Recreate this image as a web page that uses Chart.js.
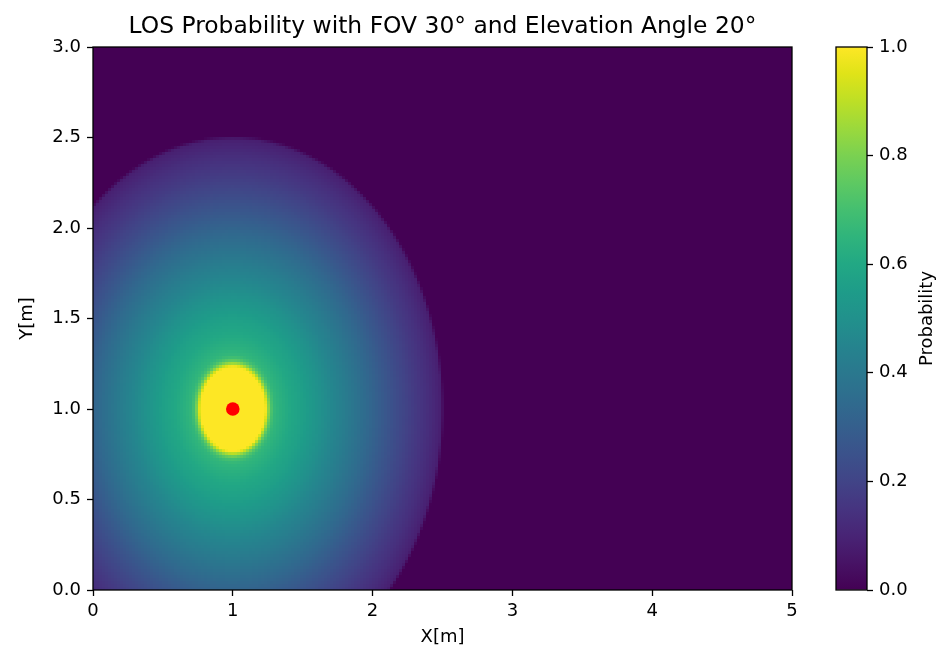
<!DOCTYPE html>
<html><head><meta charset="utf-8">
<script src="https://cdn.jsdelivr.net/npm/chart.js@4.4.1/dist/chart.umd.min.js"></script>
<style>
html,body{margin:0;padding:0;background:#fff;}
#wrap{position:relative;width:942px;height:651px;}
#wrap canvas{position:absolute;left:0;top:0;}
</style></head><body>
<div id="wrap"><canvas id="main" width="942" height="651"></canvas><canvas id="cbar" width="942" height="651"></canvas></div>
<script>
// ---- data ----
const chartTitle = 'LOS Probability with FOV 30° and Elevation Angle 20°';
const xRange = [0, 5];
const yRange = [0, 3];
const xTickLabels = ['0', '1', '2', '3', '4', '5'];
const yTickLabels = ['0.0', '0.5', '1.0', '1.5', '2.0', '2.5', '3.0'];
const cbarTickLabels = ['0.0', '0.2', '0.4', '0.6', '0.8', '1.0'];
const sourcePoint = [1, 1];            // red marker (x, y)
const cutoffRadius = 1.5;              // beyond this distance probability is 0
// radial profile of probability around the source point (distance in metres)
const radialDistance = [0, 0.232, 0.242, 0.252, 0.265, 0.28, 0.30, 0.35, 0.42, 0.50, 0.60, 0.70, 0.80, 0.90, 1.00, 1.10, 1.20, 1.30, 1.40, 1.46, 1.50];
const radialProb     = [1.0, 1.0, 0.93, 0.85, 0.76, 0.70, 0.66, 0.63, 0.595, 0.565, 0.515, 0.465, 0.42, 0.37, 0.32, 0.265, 0.215, 0.17, 0.13, 0.10, 0.08];
const outsideProb = 0;
// grid resolution of the rendered field
const gridCols = 233, gridRows = 181;
const cellStepX = (xRange[1] - xRange[0]) / gridCols;
const cellStepY = (yRange[1] - yRange[0]) / gridRows;

// viridis colour map
const viridis = ['#440154','#471365','#482475','#463480','#414487','#3b528b','#355f8d','#2f6c8e','#2a788e','#25848e','#21918c','#1e9c89','#22a884','#2fb47c','#44bf70','#5ec962','#7ad151','#9bd93c','#bddf26','#dfe318','#fde725'];
const vrgb = viridis.map(h => [parseInt(h.slice(1,3),16), parseInt(h.slice(3,5),16), parseInt(h.slice(5,7),16)]);
function cmapRGB(p) {
  p = Math.max(0, Math.min(1, p));
  const f = p * (vrgb.length - 1), i = Math.min(vrgb.length - 2, Math.floor(f)), t = f - i;
  const a = vrgb[i], b = vrgb[i + 1];
  return a.map((v, k) => v + (b[k] - v) * t);
}
const toCss = c => 'rgb(' + c.map(Math.round).join(',') + ')';
function profile(r) {
  if (r > cutoffRadius) return outsideProb;
  for (let k = 1; k < radialDistance.length; k++) {
    if (r <= radialDistance[k]) {
      const t = (r - radialDistance[k - 1]) / (radialDistance[k] - radialDistance[k - 1]);
      return radialProb[k - 1] + (radialProb[k] - radialProb[k - 1]) * t;
    }
  }
  return radialProb[radialProb.length - 1];
}

// build heatmap cells (non-zero cells; the zero region is the background colour)
const heatCells = [], heatColors = [];
const edgeWidth = 0.02;   // cell-sized soft edge at the cutoff
const zeroRGB = cmapRGB(outsideProb);
for (let i = 0; i < gridCols; i++) {
  const x = xRange[0] + (i + 0.5) * cellStepX;
  for (let j = 0; j < gridRows; j++) {
    const y = yRange[0] + (j + 0.5) * cellStepY;
    const r = Math.hypot(x - sourcePoint[0], y - sourcePoint[1]);
    if (r <= cutoffRadius + edgeWidth / 2) {
      let c = cmapRGB(profile(Math.min(r, cutoffRadius)));
      const cover = Math.max(0, Math.min(1, (cutoffRadius + edgeWidth / 2 - r) / edgeWidth));
      if (cover < 1) c = c.map((v, k) => zeroRGB[k] + (v - zeroRGB[k]) * cover);
      heatCells.push({x, y});
      heatColors.push(toCss(c));
    }
  }
}

Chart.defaults.font.family = "'DejaVu Sans', sans-serif";
Chart.defaults.font.size = 18;
Chart.defaults.color = '#000';

const areaPlugin = {
  id: 'area',
  beforeDatasetsDraw(chart) {
    const {ctx, chartArea: a} = chart;
    ctx.save(); ctx.fillStyle = toCss(zeroRGB);
    ctx.fillRect(a.left, a.top, a.right - a.left, a.bottom - a.top); ctx.restore();
  },
  afterDatasetsDraw(chart) {
    const {ctx, chartArea: a} = chart;
    ctx.save(); ctx.strokeStyle = '#000'; ctx.lineWidth = 1.3;
    ctx.strokeRect(a.left, a.top, a.right - a.left, a.bottom - a.top); ctx.restore();
  }
};

function cellRadius(c) {
  const s = c.chart.scales;
  if (!s || !s.x || !s.y) return 2;
  const w = Math.abs(s.x.getPixelForValue(cellStepX) - s.x.getPixelForValue(0));
  const h = Math.abs(s.y.getPixelForValue(0) - s.y.getPixelForValue(cellStepY));
  return (Math.max(w, h) + 0.02) / Math.SQRT2;
}

new Chart(document.getElementById('main'), {
  type: 'scatter',
  data: {
    datasets: [
      { data: [{x: sourcePoint[0], y: sourcePoint[1]}], pointRadius: 6.8, pointHoverRadius: 6.8,
        pointBackgroundColor: '#ff0000', pointBorderWidth: 0, clip: false },
      { data: heatCells, pointStyle: 'rect', pointRadius: cellRadius, pointHoverRadius: cellRadius,
        pointBackgroundColor: heatColors, pointBorderWidth: 0, clip: 0 }
    ]
  },
  options: {
    responsive: false, animation: false, events: [],
    layout: {padding: {left: 0, right: 150, top: 0, bottom: 0}},
    plugins: {
      legend: {display: false}, tooltip: {enabled: false},
      title: {display: true, text: chartTitle, fullSize: false, color: '#000',
              font: {size: 23.4, weight: 'normal'}, padding: {top: 13, bottom: 5.92}}
    },
    scales: {
      x: {
        type: 'linear', min: xRange[0], max: xRange[1],
        afterFit(s) { s.height = 61; },
        ticks: {stepSize: 1, padding: 5, maxRotation: 0, autoSkip: false, color: '#000',
                callback: (v, i) => xTickLabels[i]},
        grid: {drawOnChartArea: false, tickLength: 6, color: '#000', tickWidth: 1.3},
        border: {display: false},
        title: {display: true, text: 'X[m]', color: '#000', padding: {top: 0, bottom: 3}}
      },
      y: {
        type: 'linear', min: yRange[0], max: yRange[1],
        afterFit(s) { s.width = 93; },
        ticks: {stepSize: 0.5, padding: 6, autoSkip: false, color: '#000',
                callback: (v, i) => yTickLabels[i]},
        grid: {drawOnChartArea: false, tickLength: 6, color: '#000', tickWidth: 1.3},
        border: {display: false},
        title: {display: true, text: 'Y[m]', color: '#000', padding: {top: 17, bottom: 0}}
      }
    }
  },
  plugins: [areaPlugin]
});

const cbarPlugin = {
  id: 'cbarFrame',
  afterDatasetsDraw(chart) {
    const {ctx, chartArea: a} = chart;
    ctx.save(); ctx.strokeStyle = '#000'; ctx.lineWidth = 1.3;
    ctx.strokeRect(a.left, a.top, a.right - a.left, a.bottom - a.top); ctx.restore();
  },
  afterDraw(chart) {
    const {ctx, chartArea: a} = chart;
    ctx.save();
    ctx.translate(a.right + 60, (a.top + a.bottom) / 2);
    ctx.rotate(-Math.PI / 2);
    ctx.fillStyle = '#000'; ctx.font = "18px 'DejaVu Sans'";
    ctx.textAlign = 'center'; ctx.textBaseline = 'middle';
    ctx.fillText('Probability', 0, 0);
    ctx.restore();
  }
};

new Chart(document.getElementById('cbar'), {
  type: 'bar',
  data: {
    labels: [''],
    datasets: [{
      data: [[0, 1]],
      backgroundColor: (c) => {
        const a = c.chart.chartArea;
        if (!a) return viridis[0];
        const g = c.chart.ctx.createLinearGradient(0, a.bottom, 0, a.top);
        viridis.forEach((col, i) => g.addColorStop(i / (viridis.length - 1), col));
        return g;
      },
      borderWidth: 0, barPercentage: 1, categoryPercentage: 1
    }]
  },
  options: {
    responsive: false, animation: false, events: [],
    layout: {padding: {left: 836, right: 0, top: 47, bottom: 61}},
    plugins: {legend: {display: false}, tooltip: {enabled: false}},
    scales: {
      x: {display: false},
      y: {
        position: 'right', min: 0, max: 1,
        afterFit(s) { s.width = 75; },
        ticks: {stepSize: 0.2, padding: 6, color: '#000', autoSkip: false,
                callback: (v, i) => cbarTickLabels[i]},
        grid: {drawOnChartArea: false, tickLength: 6, color: '#000', tickWidth: 1.3},
        border: {display: false}
      }
    }
  },
  plugins: [cbarPlugin]
});
</script>
</body></html>
